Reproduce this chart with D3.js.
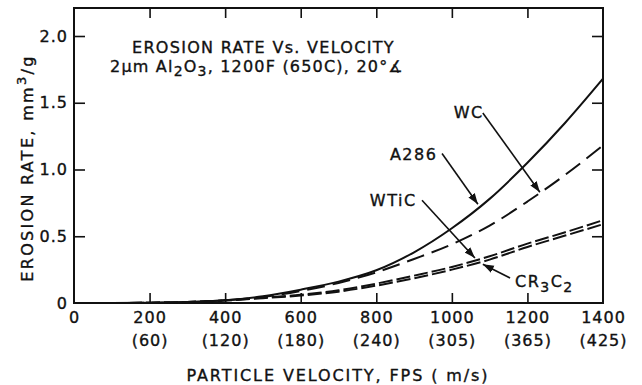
<!DOCTYPE html>
<html>
<head>
<meta charset="utf-8">
<script src="https://cdn.jsdelivr.net/npm/d3@7"></script>
<style>
  body { margin: 0; background: #fff; }
  svg text { font-family: "DejaVu Sans", sans-serif; fill: #111; stroke: #111; stroke-width: 0.35px; }
</style>
</head>
<body>
<main></main>
<script>
// velocity in fps, erosion rate in mm3/g
const velocity = [0, 100, 200, 300, 400, 500, 600, 700, 800, 900, 1000, 1100, 1200, 1300, 1400];
const rateWC = [0, 0, 0.002, 0.008, 0.02, 0.05, 0.1, 0.16, 0.245, 0.38, 0.56, 0.78, 1.05, 1.35, 1.68];
const rateA286 = [0, 0, 0.002, 0.007, 0.02, 0.045, 0.09, 0.15, 0.23, 0.33, 0.44, 0.58, 0.76, 0.96, 1.18];
const rateWTiC = [0, 0, 0.002, 0.008, 0.02, 0.04, 0.062, 0.095, 0.145, 0.205, 0.27, 0.35, 0.445, 0.53, 0.62];
const rateCR3C2 = [0, 0, 0.002, 0.007, 0.018, 0.036, 0.056, 0.085, 0.13, 0.185, 0.25, 0.325, 0.42, 0.505, 0.59];

const xTicks = [0, 200, 400, 600, 800, 1000, 1200, 1400];
const xMetric = ["", "(60)", "(120)", "(180)", "(240)", "(305)", "(365)", "(425)"];
const yTicks = [0, 0.5, 1.0, 1.5, 2.0];

// annotation label: [x, y] of label, arrow start, arrow tip (data units)
const notes = [
  { parts: [["WC", 0]], at: [1005, 1.386], from: [1082, 1.423], to: [1233, 0.83] },
  { parts: [["A286", 0]], at: [836, 1.07], from: [974, 1.12], to: [1069, 0.74] },
  { parts: [["WTiC", 0]], at: [783, 0.727], from: [921, 0.77], to: [1061, 0.337] },
  { parts: [["CR", 0], ["3", 1], ["C", 0], ["2", 1]], at: [1167, 0.12], from: [1154, 0.187], to: [1082, 0.29] }
];

window.onload = () => {
  const width = 642, height = 385;
  const svg = d3.select("main").append("svg").attr("width", width).attr("height", height);

  const x = d3.scaleLinear().domain([0, 1400]).range([74, 603]);
  const y = d3.scaleLinear().domain([0, 2.0]).range([303, 36]);
  const top = 8;

  svg.append("defs").append("marker")
    .attr("id", "head").attr("viewBox", "0 0 10 10")
    .attr("refX", 10).attr("refY", 5)
    .attr("markerWidth", 11).attr("markerHeight", 11)
    .attr("markerUnits", "userSpaceOnUse")
    .attr("orient", "auto")
    .append("path").attr("d", "M0,1.5L10,5L0,8.5Z").attr("fill", "#111");

  // frame
  svg.append("rect")
    .attr("x", x(0)).attr("y", top)
    .attr("width", x(1400) - x(0)).attr("height", y(0) - top)
    .attr("fill", "none").attr("stroke", "#111").attr("stroke-width", 2);

  const styleAxis = g => {
    g.select(".domain").remove();
    g.selectAll("line").attr("stroke", "#111").attr("stroke-width", 1.6);
    g.selectAll("text").attr("font-size", 16).attr("fill", "#111")
      .attr("font-family", "DejaVu Sans, sans-serif").attr("letter-spacing", 1);
  };

  // bottom axis
  svg.append("g").attr("transform", `translate(0,${y(0)})`)
    .call(d3.axisBottom(x).tickValues(xTicks).tickSize(-10).tickPadding(9).tickFormat(d3.format("d")))
    .call(styleAxis)
    .call(g => g.selectAll(".tick").filter(d => d === 0 || d === 1400).select("line").remove());

  svg.append("g").attr("transform", `translate(0,${y(0) + 23})`)
    .call(d3.axisBottom(x).tickValues(xTicks).tickSize(0).tickPadding(9).tickFormat((d, i) => xMetric[i]))
    .call(styleAxis);

  // top axis (ticks only)
  svg.append("g").attr("transform", `translate(0,${top})`)
    .call(d3.axisTop(x).tickValues(xTicks.slice(1, -1)).tickSize(-10).tickFormat(""))
    .call(styleAxis);

  // left axis
  svg.append("g").attr("transform", `translate(${x(0)},0)`)
    .call(d3.axisLeft(y).tickValues(yTicks).tickSize(-11).tickPadding(6)
      .tickFormat(d => d === 0 ? "0" : d3.format(".1f")(d)))
    .call(styleAxis)
    .call(g => g.selectAll(".tick").filter(d => d === 0).select("line").remove());

  // right axis (ticks only)
  svg.append("g").attr("transform", `translate(${x(1400)},0)`)
    .call(d3.axisRight(y).tickValues(yTicks.slice(1)).tickSize(-11).tickFormat(""))
    .call(styleAxis);

  // curves
  const series = [
    { values: rateWC, dash: null },
    { values: rateA286, dash: "18,8" },
    { values: rateWTiC, dash: "14,4" },
    { values: rateCR3C2, dash: "14,4" }
  ];
  const line = d3.line().x(d => x(d[0])).y(d => y(d[1])).curve(d3.curveMonotoneX);
  svg.append("g").selectAll("path")
    .data(series)
    .join("path")
    .attr("d", s => line(velocity.map((v, i) => [v, s.values[i]])))
    .attr("fill", "none")
    .attr("stroke", "#111")
    .attr("stroke-width", 2)
    .attr("stroke-dasharray", s => s.dash);

  // annotations
  const ann = svg.append("g");
  notes.forEach(n => {
    ann.append("line")
      .attr("x1", x(n.from[0])).attr("y1", y(n.from[1]))
      .attr("x2", x(n.to[0])).attr("y2", y(n.to[1]))
      .attr("stroke", "#111").attr("stroke-width", 1.6)
      .attr("marker-end", "url(#head)");
    const t = ann.append("text")
      .attr("x", x(n.at[0])).attr("y", y(n.at[1]))
      .attr("font-size", 16).attr("letter-spacing", 1.5);
    let sub = 0;
    n.parts.forEach(([s, isSub]) => {
      const dy = (isSub ? 5 : 0) - sub;
      sub = isSub ? 5 : 0;
      t.append("tspan").attr("dy", dy).attr("font-size", isSub ? 14 : 16).text(s);
    });
  });

  // title
  svg.append("text").attr("x", 132).attr("y", 53)
    .attr("font-size", 16).attr("letter-spacing", 1.3)
    .text("EROSION RATE Vs. VELOCITY");
  const t2 = svg.append("text").attr("x", 110).attr("y", 72)
    .attr("font-size", 16).attr("letter-spacing", 1.2);
  t2.append("tspan").text("2μm Al");
  t2.append("tspan").attr("dy", 4).attr("font-size", 14).text("2");
  t2.append("tspan").attr("dy", -4).text("O");
  t2.append("tspan").attr("dy", 4).attr("font-size", 14).text("3");
  t2.append("tspan").attr("dy", -4).text(", 1200F (650C), 20°∡");

  // axis titles
  svg.append("text").attr("x", 338).attr("y", 381)
    .attr("text-anchor", "middle").attr("font-size", 16).attr("letter-spacing", 1.9)
    .text("PARTICLE VELOCITY, FPS ( m/s)");

  const yl = svg.append("text")
    .attr("transform", "translate(33,168) rotate(-90)")
    .attr("text-anchor", "middle").attr("font-size", 16).attr("letter-spacing", 2.3);
  yl.append("tspan").text("EROSION RATE, mm");
  yl.append("tspan").attr("dy", -7).attr("font-size", 13).text("3");
  yl.append("tspan").attr("dy", 7).text("/g");
};
</script>
</body>
</html>
